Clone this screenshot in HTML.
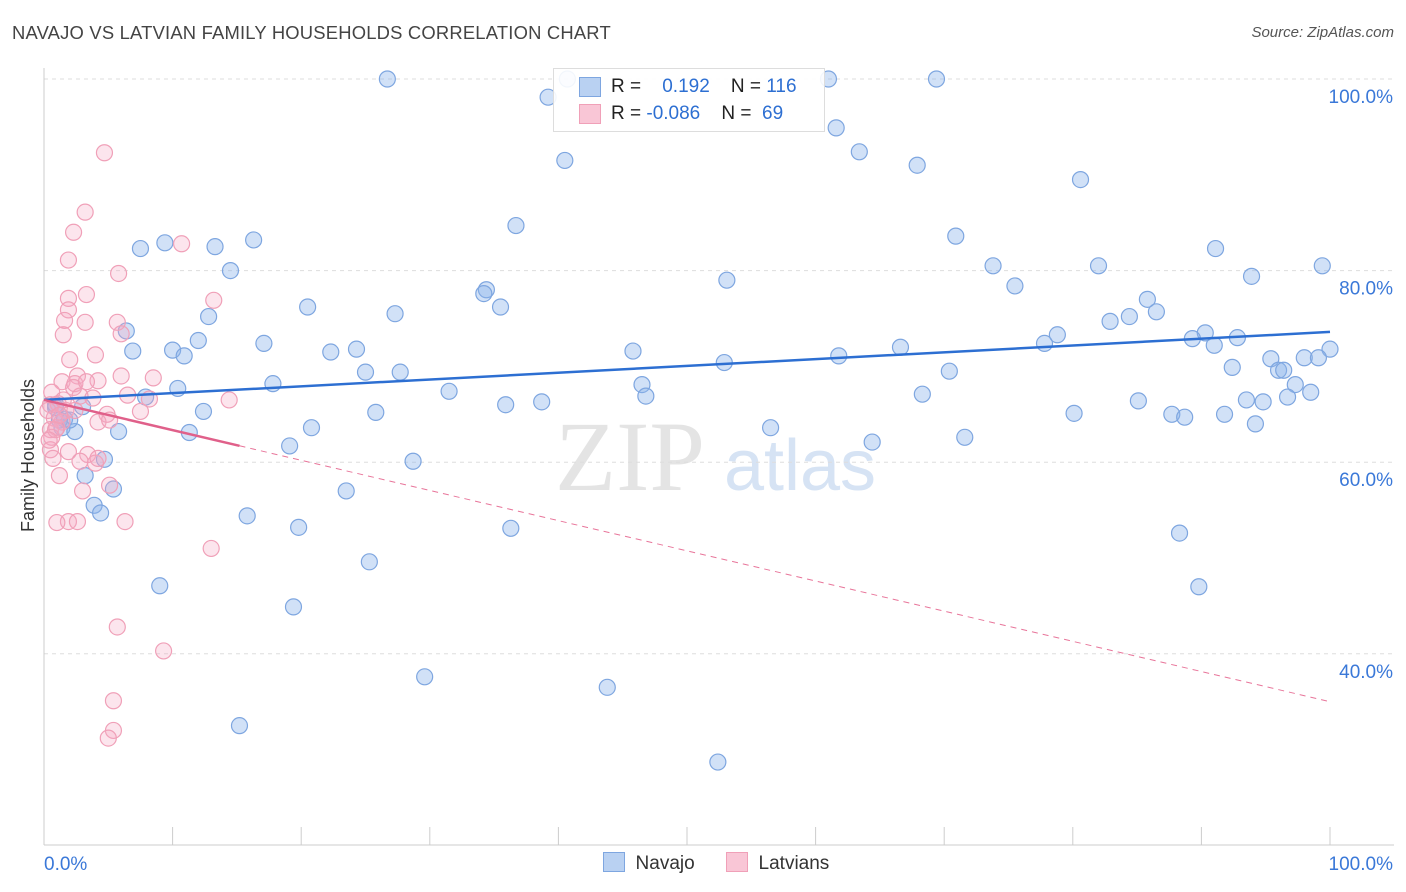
<!DOCTYPE html>
<html><head><meta charset="utf-8"><style>
body{margin:0;background:#fff;font-family:"Liberation Sans",sans-serif;}
#wrap{position:relative;width:1406px;height:892px;overflow:hidden;}
.t{position:absolute;white-space:nowrap;}
</style></head><body>
<div id="wrap">
<div class="t" style="left:12px;top:22px;font-size:18.4px;color:#444;letter-spacing:0.2px">NAVAJO VS LATVIAN FAMILY HOUSEHOLDS CORRELATION CHART</div>
<div class="t" style="right:12px;top:24px;font-size:15px;color:#555;font-style:italic">Source: ZipAtlas.com</div>
<svg id="svg" width="1406" height="892" style="position:absolute;left:0;top:0">
<text x="630" y="490" font-size="100" font-family="Liberation Serif" fill="#e4e4e4" text-anchor="middle">ZIP</text>
<text x="800" y="490" font-size="72" font-family="Liberation Sans" fill="#d6e3f4" text-anchor="middle">atlas</text>
</svg>
<div class="t" style="left:-48px;top:445px;font-size:18px;color:#333;transform:rotate(-90deg)">Family Households</div>
<div style="position:absolute;left:553px;top:68px;width:270px;height:62px;border:1px solid #ddd;background:rgba(255,255,255,0.9)">
<div style="position:absolute;left:25px;top:8px;width:20px;height:18px;background:#b9d1f2;border:1px solid #7ea6e0"></div>
<div class="t" style="left:57px;top:7px;font-size:19px;color:#222">R = &nbsp;&nbsp;&nbsp;<span style="color:#2d6fd2">0.192</span>&nbsp;&nbsp;&nbsp; N = <span style="color:#2d6fd2">116</span></div>
<div style="position:absolute;left:25px;top:35px;width:20px;height:18px;background:#f9c6d6;border:1px solid #f0a0b8"></div>
<div class="t" style="left:57px;top:34px;font-size:19px;color:#222">R = <span style="color:#2d6fd2">-0.086</span>&nbsp;&nbsp;&nbsp; N = &nbsp;<span style="color:#2d6fd2">69</span></div>
</div>
<div style="position:absolute;left:603px;top:852px;font-size:19px;color:#333">
<span style="display:inline-block;width:20px;height:18px;background:#b9d1f2;border:1px solid #7ea6e0;vertical-align:-3px"></span>&nbsp; Navajo
<span style="display:inline-block;width:20px;height:18px;background:#f9c6d6;border:1px solid #f0a0b8;vertical-align:-3px;margin-left:26px"></span>&nbsp; Latvians
</div>
</div>
<script>
const navX=[26.7,40.7,61.0,69.4,39.2,61.6,63.4,40.5,67.9,80.6,36.7,70.9,16.3,7.5,9.4,13.3,91.1,14.5,73.8,82.0,99.4,53.1,93.9,75.5,34.4,34.2,85.8,20.5,35.5,27.3,12.8,84.4,86.5,82.9,6.4,78.8,90.3,12.0,89.3,92.8,17.1,77.8,6.9,10.0,22.3,24.3,45.8,66.6,91.0,10.9,100,61.8,95.4,98.0,99.1,52.9,92.4,25.0,27.7,70.4,96.0,96.4,17.8,10.4,46.5,97.3,98.5,31.5,46.8,68.3,96.7,7.9,38.7,85.1,93.5,94.8,35.9,80.1,87.7,88.7,91.8,12.4,25.8,0.9,3.0,1.6,94.2,1.4,20.8,5.8,2.4,11.3,56.5,71.6,64.4,19.1,4.7,28.7,3.2,5.4,23.5,3.9,4.4,15.8,19.8,36.3,88.3,25.3,9.0,89.8,19.4,29.6,43.8,15.2,52.4,0.9,1.2,2.0];
const navY=[100,100,100,100,98.1,94.9,92.4,91.5,91.0,89.5,84.7,83.6,83.2,82.3,82.9,82.5,82.3,80.0,80.5,80.5,80.5,79.0,79.4,78.4,78.0,77.6,77.0,76.2,76.2,75.5,75.2,75.2,75.7,74.7,73.7,73.3,73.5,72.7,72.9,73.0,72.4,72.4,71.6,71.7,71.5,71.8,71.6,72.0,72.2,71.1,71.8,71.1,70.8,70.9,70.9,70.4,69.9,69.4,69.4,69.5,69.6,69.6,68.2,67.7,68.1,68.1,67.3,67.4,66.9,67.1,66.8,66.8,66.3,66.4,66.5,66.3,66.0,65.1,65.0,64.7,65.0,65.3,65.2,65.7,65.8,64.5,64.0,63.6,63.6,63.2,63.2,63.1,63.6,62.6,62.1,61.7,60.3,60.1,58.6,57.2,57.0,55.5,54.7,54.4,53.2,53.1,52.6,49.6,47.1,47.0,44.9,37.6,36.5,32.5,28.7,66.0,64.4,64.4];
const latX=[4.7,3.2,2.3,1.9,10.7,5.8,1.9,3.3,13.2,1.9,1.6,3.2,5.7,1.5,6.0,4.0,2.0,2.6,8.5,1.4,2.4,4.2,6.0,2.3,3.3,0.6,2.8,3.8,6.5,8.2,14.4,0.5,1.1,1.7,4.9,7.5,0.8,4.2,5.1,1.4,0.5,1.0,0.6,1.9,3.4,2.8,4.0,4.2,0.5,0.7,1.2,5.1,3.0,1.9,1.0,2.6,6.3,13.0,5.7,9.3,5.4,5.4,5.0,0.3,0.9,0.4,1.2,1.5,2.4];
const latY=[92.3,86.1,84.0,81.1,82.8,79.7,77.1,77.5,76.9,75.9,74.8,74.6,74.6,73.3,73.4,71.2,70.7,69.0,68.8,68.4,68.2,68.5,69.0,67.8,68.4,67.3,66.9,66.7,67.0,66.6,66.5,66.0,66.1,65.4,65.0,65.3,64.6,64.2,64.4,64.2,63.4,63.6,62.6,61.1,60.8,60.1,59.9,60.4,61.3,60.4,58.6,57.6,57.0,53.8,53.7,53.8,53.8,51.0,42.8,40.3,35.1,32.0,31.2,65.4,63.4,62.3,64.9,66.5,65.4];
const yTicks=[100,80,60,40];
const xTickVals=[0,10,20,30,40,50,60,70,80,90,100];
const navTrend=[66.5,73.6];
const latTrend=[66.5,35.0];
const latSolidEnd=15.2;

const sx=v=>44+v*12.86;
const sy=v=>79+(100-v)*9.58;
const svg=document.getElementById('svg');
const NS='http://www.w3.org/2000/svg';
function mk(tag,attrs){const e=document.createElementNS(NS,tag);for(const k in attrs)e.setAttribute(k,attrs[k]);svg.appendChild(e);return e;}

yTicks.forEach(v=>{
  const l=mk('line',{x1:44,x2:1394,y1:sy(v),y2:sy(v),stroke:'#ddd','stroke-dasharray':'4,4'});
  
  
  const t=mk('text',{x:1393,y:sy(v)+24,'font-size':19,fill:'#3a78d8','text-anchor':'end','font-family':'Liberation Sans'});
  t.textContent=v.toFixed(1)+'%';
  
  
});
const ax=mk('line',{x1:44,x2:1394,y1:845,y2:845,stroke:'#ccc'});


const ay=mk('line',{x1:44,x2:44,y1:68,y2:845,stroke:'#ccc'});


xTickVals.forEach(v=>{
  const l=mk('line',{x1:sx(v),x2:sx(v),y1:827,y2:845,stroke:'#ccc'});
  
  
});
[[0,'0.0%','start',44],[100,'100.0%','end',1393]].forEach(a=>{
  const t=mk('text',{x:a[3],y:870,'font-size':19,fill:'#3a78d8','text-anchor':a[2],'font-family':'Liberation Sans'});
  t.textContent=a[1];
  
  
});
navX.forEach((x,i)=>{
  const c=mk('circle',{cx:sx(x),cy:sy(navY[i]),r:8,fill:'rgba(140,180,235,0.4)',stroke:'#7ea6e0','stroke-width':1.2});
  
  
});
latX.forEach((x,i)=>{
  const c=mk('circle',{cx:sx(x),cy:sy(latY[i]),r:8,fill:'rgba(245,170,195,0.3)',stroke:'#f0a0b8','stroke-width':1.2});
  
  
});
const nl=mk('line',{x1:sx(0),y1:sy(navTrend[0]),x2:sx(100),y2:sy(navTrend[1]),stroke:'#2d6fd2','stroke-width':2.5});


const latAt=x=>latTrend[0]+(latTrend[1]-latTrend[0])*x/100;
const ld=mk('line',{x1:sx(latSolidEnd),y1:sy(latAt(latSolidEnd)),x2:sx(100),y2:sy(latTrend[1]),stroke:'#e8759a','stroke-width':1,'stroke-dasharray':'6,5'});


const ls=mk('line',{x1:sx(0),y1:sy(latTrend[0]),x2:sx(latSolidEnd),y2:sy(latAt(latSolidEnd)),stroke:'#e0608a','stroke-width':2.5});


</script>
</body></html>
